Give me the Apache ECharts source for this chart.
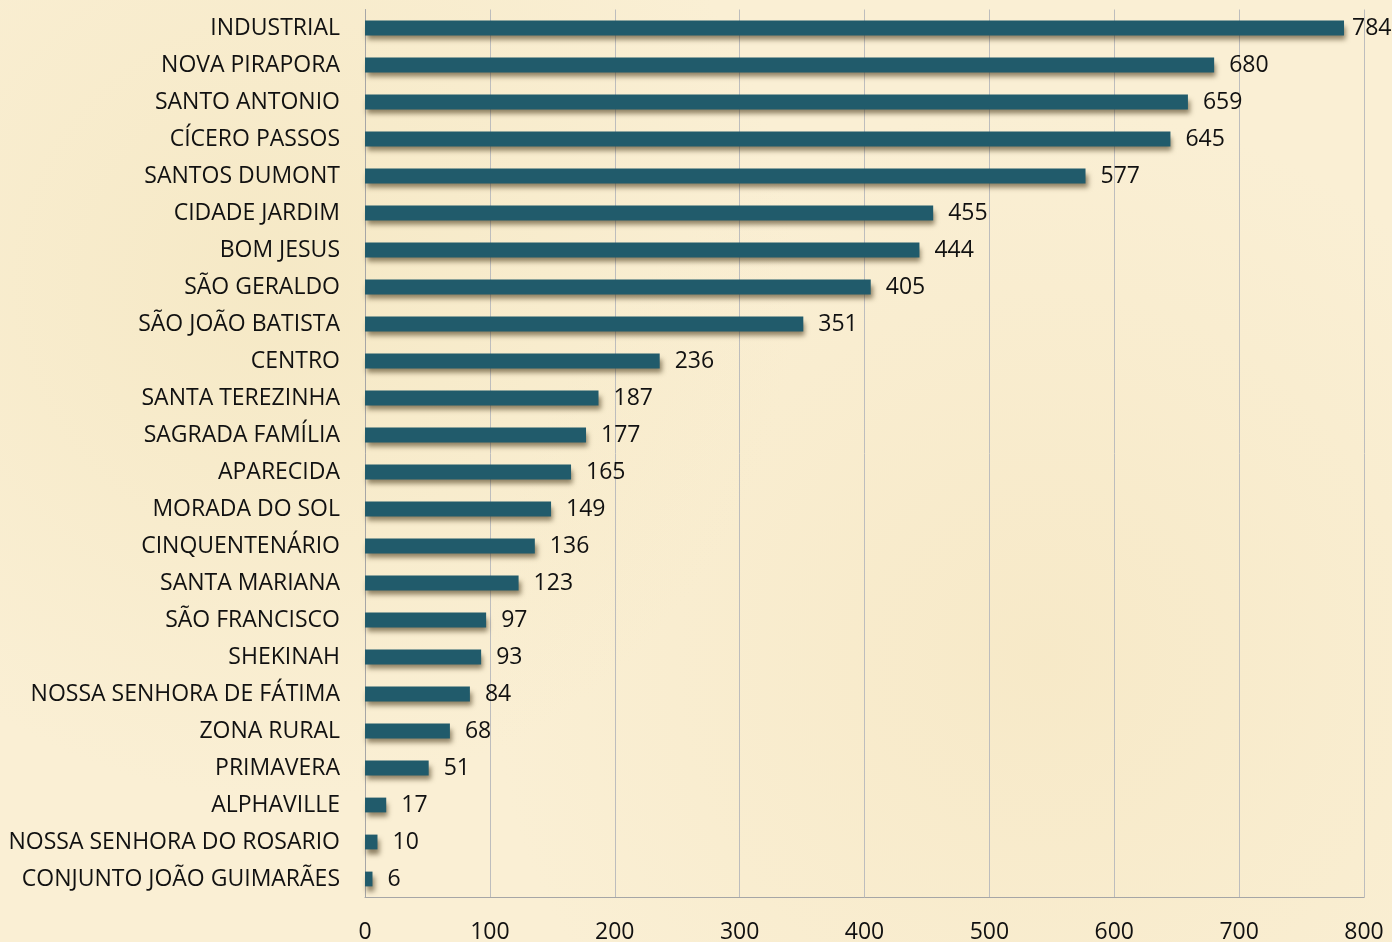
<!DOCTYPE html>
<html><head><meta charset="utf-8">
<script src="https://cdn.jsdelivr.net/npm/echarts@6/dist/echarts.min.js"></script>
<style>
html,body{margin:0;padding:0;}
#c{width:1392px;height:942px;background:#FAEFD4;background-image:radial-gradient(circle at 20% 30%, rgba(240,225,180,0.45) 0, rgba(250,239,212,0) 40%),radial-gradient(circle at 75% 70%, rgba(243,226,185,0.45) 0, rgba(250,239,212,0) 45%);}
</style></head>
<body><div id="c"></div>
<script>
const categories = ["INDUSTRIAL","NOVA PIRAPORA","SANTO ANTONIO","CÍCERO PASSOS","SANTOS DUMONT","CIDADE JARDIM","BOM JESUS","SÃO GERALDO","SÃO JOÃO BATISTA","CENTRO","SANTA TEREZINHA","SAGRADA FAMÍLIA","APARECIDA","MORADA DO SOL","CINQUENTENÁRIO","SANTA MARIANA","SÃO FRANCISCO","SHEKINAH","NOSSA SENHORA DE FÁTIMA","ZONA RURAL","PRIMAVERA","ALPHAVILLE","NOSSA SENHORA DO ROSARIO","CONJUNTO JOÃO GUIMARÃES"];
const values = [784,680,659,645,577,455,444,405,351,236,187,177,165,149,136,123,97,93,84,68,51,17,10,6];
const xTicks = {min:0, max:800, interval:100};

const font = '"Open Sans", "Liberation Sans", sans-serif';
const chart = echarts.init(document.getElementById('c'), null, {renderer:'canvas'});
chart.setOption({
  backgroundColor: 'transparent',
  animation: false,
  grid: {left: 365, right: 28, top: 9.5, bottom: 44.5, containLabel: false, outerBoundsMode: 'none'},
  xAxis: {
    type: 'value', min: xTicks.min, max: xTicks.max, interval: xTicks.interval,
    axisLine: {show: true, lineStyle: {color: '#A6A6A6', width: 1}}, axisTick: {show: false},
    splitLine: {show: true, lineStyle: {color: '#BDBDBD', width: 1}},
    axisLabel: {color: '#111', fontFamily: font, fontSize: 23, margin: 23}
  },
  yAxis: {
    type: 'category', data: categories, inverse: true,
    axisLine: {show: true, lineStyle: {color: '#A6A6A6', width: 1}},
    axisTick: {show: false},
    axisLabel: {color: '#111', fontFamily: font, fontSize: 23, margin: 25}
  },
  series: [{
    type: 'bar',
    data: values.map((v, i) => i === 0 ? {value: v, label: {distance: 8}} : v),
    barCategoryGap: '60%',
    itemStyle: {color: '#215B6B', shadowColor: 'rgba(70,55,25,0.6)', shadowBlur: 5, shadowOffsetX: 2, shadowOffsetY: 5},
    label: {show: true, position: 'right', distance: 15, color: '#111', fontFamily: font, fontSize: 23}
  }]
});
</script></body></html>
